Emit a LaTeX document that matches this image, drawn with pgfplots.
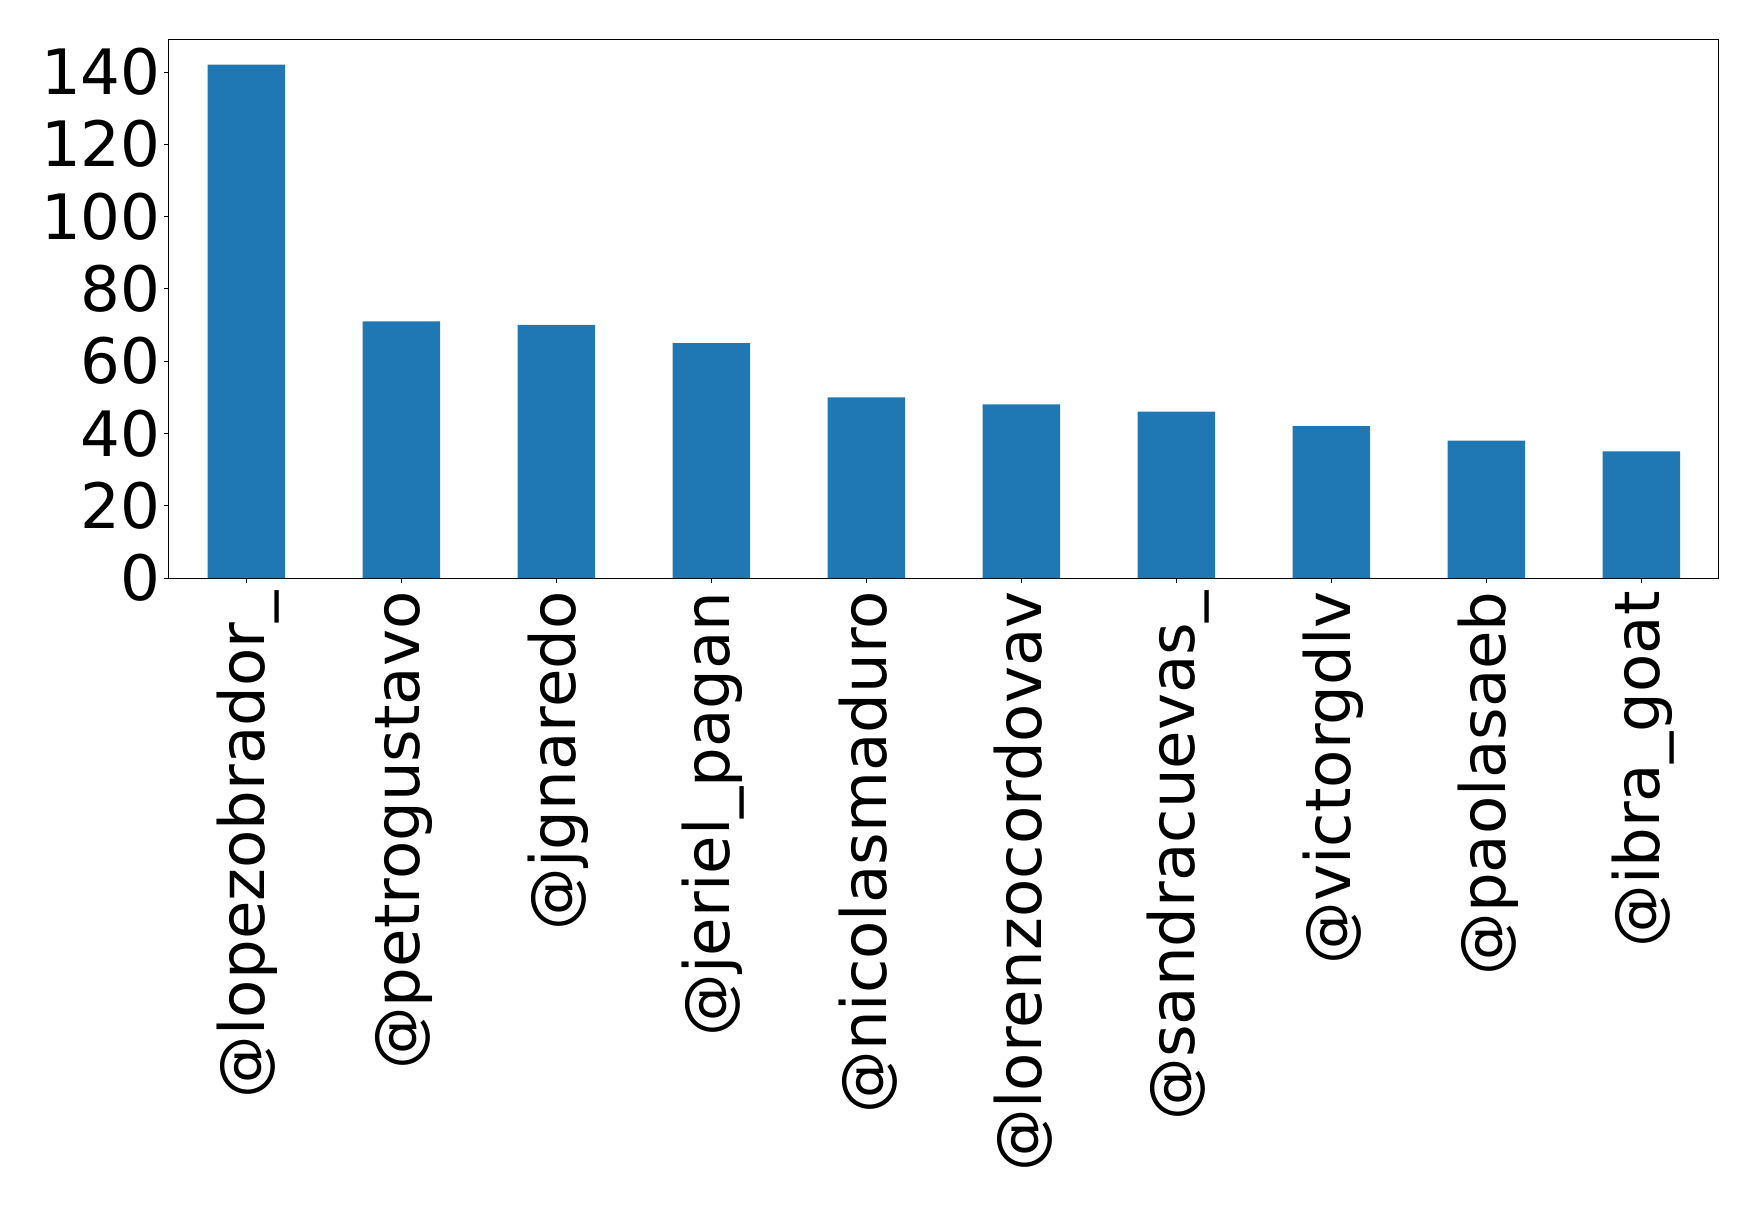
\documentclass[border=0pt]{standalone}
\usepackage{fontspec}
\setmainfont{DejaVu Sans}
\usepackage{pgfplots}
\pgfplotsset{compat=1.18}
\definecolor{tabblue}{HTML}{1F77B4}
\begin{document}
\fontsize{31.3}{37}\selectfont
\begin{tikzpicture}
\useasboundingbox (-84.5pt,-314.5pt) rectangle (794.5pt,289pt);
\begin{axis}[
  at={(0,0)}, anchor=south west,
  scale only axis,
  width=775pt, height=269.5pt,
  xmin=-0.5, xmax=9.5,
  ymin=0, ymax=149.1,
  xtick={0,...,9},
  xticklabels={@lopezobrador\_,@petrogustavo,@jgnaredo,@jeriel\_pagan,@nicolasmaduro,@lorenzocordovav,@sandracuevas\_,@victorgdlv,@paolasaeb,@ibra\_goat},
  ytick={0,20,...,140},
  tick align=outside,
  major tick length=2.5pt,
  tick style={black, line width=0.4pt},
  xtick pos=bottom, ytick pos=left,
  axis line style={black, line width=0.5pt},
  /pgf/number format/assume math mode=true,
  ticklabel style={font=\fontsize{31.3}{37}\selectfont},
  yticklabel style={anchor=east, inner sep=0pt, xshift=-1.5pt},
  xticklabel style={rotate=90, anchor=east, inner sep=0pt, xshift=-4pt, yshift=-1pt},
]
\addplot[ybar, bar width=0.5, fill=tabblue, draw=none, bar shift=0pt] coordinates {
  (0,142) (1,71) (2,70) (3,65) (4,50) (5,48) (6,46) (7,42) (8,38) (9,35)
};
\end{axis}
\end{tikzpicture}
\end{document}
